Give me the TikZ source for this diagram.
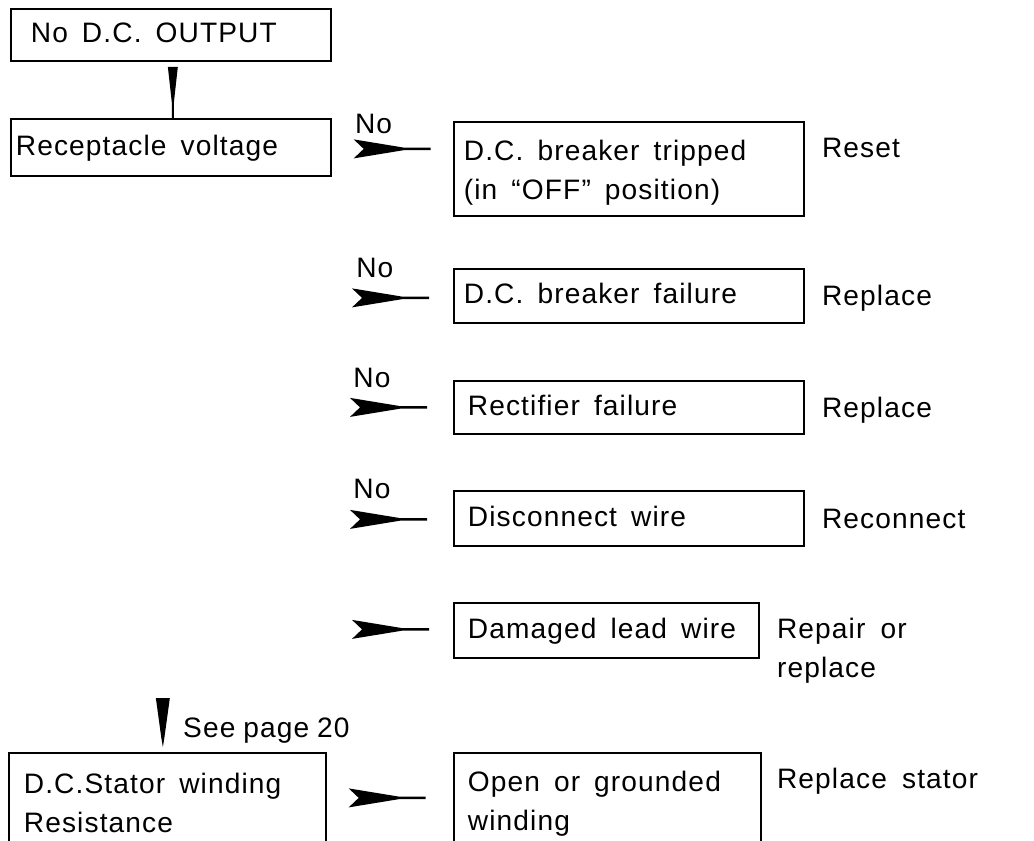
\documentclass[tikz,border=0pt]{standalone}
\usepackage{fontspec}
\setmainfont{Liberation Sans}[LetterSpace=4,WordSpace=1.7]
\usetikzlibrary{calc}
\newcommand\bx{\fontsize{16}{22.2}\selectfont}

\tikzset{
  box/.style={draw, line width=1pt, anchor=north west, align=left, font=\bx, inner ysep=0pt,
    execute at begin node={\spaceskip=0.5em plus 0.1em\relax\strut}},
  lbl/.style={inner sep=0pt, anchor=base west, font=\bx},
  wedge/.style={fill=black},
  harrow/.pic={\fill[wedge] (0,-9.5) -- (10,0) -- (0,9.5) -- (50,1.3) -- (77,1.2) -- (77,-1.2) -- (50,-1.3) -- cycle;},
}

\begin{document}
\begin{tikzpicture}[x=0.02cm, y=-0.02cm]
\useasboundingbox (0,0) rectangle (1034,840);
\clip (0,0) rectangle (1034,840);
% Riquadri
\node[box, inner xsep=0.4cm, text width=5.6cm, minimum height=1.04cm] (out) at (10,8) {No D.C. OUTPUT};
\node[box, inner xsep=0.1cm, text width=6.2cm, minimum height=1.14cm] (rec) at (10,118) {Receptacle voltage};
\node[box, inner xsep=0.2cm, text width=6.6cm, minimum height=1.88cm] (brk) at (453,121) {D.C. breaker tripped\\(in ``OFF'' position)};
\node[box, inner xsep=0.2cm, text width=6.6cm, minimum height=1.08cm] (fail) at (453,268) {D.C. breaker failure};
\node[box, inner xsep=0.28cm, text width=6.44cm, minimum height=1.06cm] (rect) at (453,380) {Rectifier failure};
\node[box, inner xsep=0.28cm, text width=6.44cm, minimum height=1.1cm] (disc) at (453,490) {Disconnect wire};
\node[box, inner xsep=0.28cm, text width=5.54cm, minimum height=1.1cm] (dmg) at (453,602) {Damaged lead wire};
\node[box, inner xsep=0.28cm, text width=5.58cm, minimum height=1.88cm] (open) at (453,752) {Open or grounded\\winding};
\node[box, inner xsep=0.3cm, text width=5.74cm, minimum height=1.88cm] (stat) at (8,752) {D.C.Stator winding\\Resistance};
% Frecce verticali
\fill[wedge] ($(out.south)+(-3,5)$) -- ++(10,0) -- ++(-4,36) -- ++(0,15) -- ++(-2,0) -- ++(0,-15) -- cycle;
\fill[wedge] ($(stat.north)+(-11.5,-54)$) -- ++(14,0) -- ++(-5.5,40) -- ++(-1.5,9) -- ++(-1.5,-9) -- cycle;
% Frecce orizzontali
\coordinate (a1) at ($(rec.east)+(22,1.5)$);
\coordinate (a2) at ($(fail.west)+(-101,2)$);
\coordinate (a3) at ($(rect.west)+(-103,0)$);
\coordinate (a4) at ($(disc.west)+(-103,1)$);
\coordinate (a5) at ($(dmg.west)+(-101,-1)$);
\coordinate (a6) at ($(stat.east)+(22,-2)$);
\foreach \a in {a1,a2,a3,a4,a5,a6} \pic at (\a) {harrow};
\node[lbl] (no1) at ($(a1)+(1,-15)$) {No};
\node[lbl] (no2) at ($(a2)+(4,-20)$) {No};
\node[lbl] (no3) at ($(a3)+(3,-20)$) {No};
\node[lbl] (no4) at ($(a4)+(3,-21)$) {No};
% Rimedi
\node[lbl] (reset) at ($(brk.north east)+(17,36)$) {Reset};
\node[lbl] (rep1) at ($(fail.east)+(17,10)$) {Replace};
\node[lbl] (rep2) at ($(rect.east)+(17,10)$) {Replace};
\node[lbl] (recon) at ($(disc.east)+(17,10)$) {Reconnect};
\node[lbl, anchor=north west, align=left] (repair) at ($(dmg.north east)+(17,16)$) {Repair or\\replace};
\node[lbl] (stator) at ($(open.north east)+(15,36)$) {Replace stator};
\node[lbl, font={\bx\spaceskip=0.28em\relax}] (page) at ($(stat.north)+(15.5,-15)$) {See page 20};
\end{tikzpicture}
\end{document}
